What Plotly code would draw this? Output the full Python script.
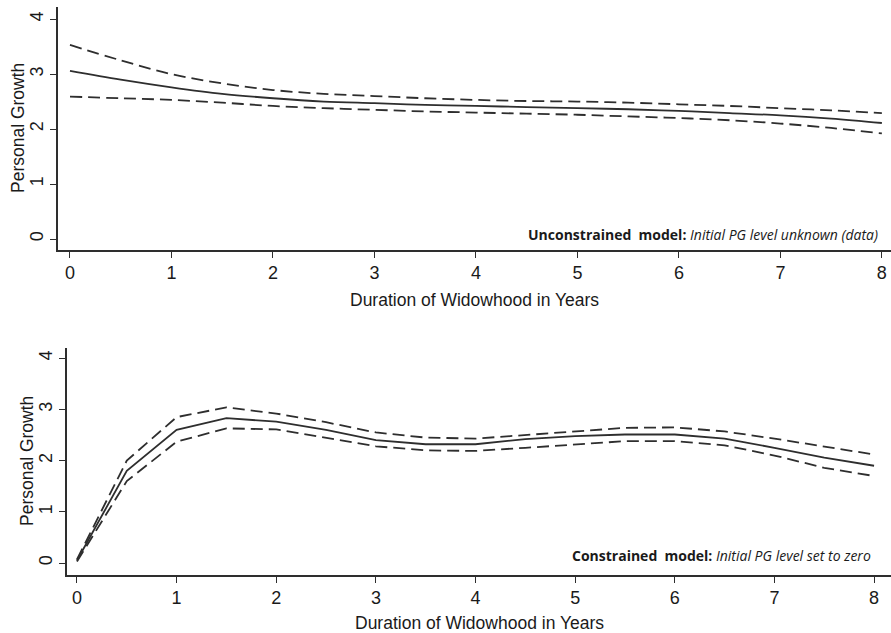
import plotly.graph_objects as go

years = [0, 0.5, 1, 1.5, 2, 2.5, 3, 3.5, 4, 4.5, 5, 5.5, 6, 6.5, 7, 7.5, 8]

# Unconstrained model (top panel)
unc_est = [3.06, 2.90, 2.76, 2.64, 2.56, 2.50, 2.47, 2.44, 2.42, 2.40, 2.38, 2.36, 2.33, 2.29, 2.25, 2.19, 2.11]
unc_upper = [3.53, 3.25, 3.00, 2.83, 2.71, 2.64, 2.60, 2.56, 2.53, 2.51, 2.50, 2.48, 2.45, 2.42, 2.38, 2.34, 2.29]
unc_lower = [2.59, 2.56, 2.53, 2.48, 2.42, 2.38, 2.35, 2.32, 2.30, 2.28, 2.26, 2.23, 2.20, 2.16, 2.10, 2.02, 1.92]

# Constrained model (bottom panel)
con_est = [0.05, 1.80, 2.60, 2.83, 2.76, 2.60, 2.40, 2.32, 2.32, 2.42, 2.48, 2.51, 2.51, 2.43, 2.25, 2.06, 1.90]
con_upper = [0.07, 2.00, 2.85, 3.04, 2.92, 2.75, 2.55, 2.45, 2.43, 2.50, 2.58, 2.64, 2.65, 2.57, 2.43, 2.27, 2.12]
con_lower = [0.03, 1.60, 2.37, 2.63, 2.61, 2.45, 2.28, 2.20, 2.19, 2.25, 2.32, 2.38, 2.38, 2.30, 2.10, 1.86, 1.70]

x_ticks = [0, 1, 2, 3, 4, 5, 6, 7, 8]
y_ticks = [0, 1, 2, 3, 4]
x_title = "Duration of Widowhood in Years"
y_title = "Personal Growth"
note_top = "<b>Unconstrained  model:</b> <i>Initial PG level unknown (data)</i>"
note_bot = "<b>Constrained  model:</b> <i>Initial PG level set to zero</i>"

W, H = 891, 633
LC = "#2e2e2e"
DASH = "12px,6px"

fig = go.Figure()

def add(y, xa, ya, dash, shape):
    fig.add_trace(go.Scatter(
        x=years, y=y, xaxis=xa, yaxis=ya, mode="lines",
        line=dict(color=LC, width=1.8, dash=dash, shape=shape),
        showlegend=False, hoverinfo="skip"))

add(unc_upper, "x", "y", DASH, "spline")
add(unc_lower, "x", "y", DASH, "spline")
add(unc_est, "x", "y", "solid", "spline")
add(con_upper, "x2", "y2", DASH, "linear")
add(con_lower, "x2", "y2", DASH, "linear")
add(con_est, "x2", "y2", "solid", "linear")

tickfont = dict(family="Liberation Sans, Arial, sans-serif", size=18, color="#1a1a1a")
axcommon = dict(showgrid=False, zeroline=False, showline=True, linecolor=LC, linewidth=1.6,
                ticks="outside", ticklen=6, tickwidth=1.4, tickcolor=LC, tickfont=tickfont)

fig.update_layout(
    width=W, height=H,
    margin=dict(l=0, r=0, t=0, b=0),
    paper_bgcolor="white", plot_bgcolor="white",
    xaxis=dict(domain=[58 / W, 1], range=[-0.118, 8.09], anchor="y",
               tickvals=x_ticks, **axcommon),
    yaxis=dict(domain=[1 - 250 / H, 1 - 7 / H], range=[-0.2, 4.22], anchor="x",
               tickvals=y_ticks, tickangle=-90, **axcommon),
    xaxis2=dict(domain=[67 / W, 1], range=[-0.1, 8.17], anchor="y2",
                tickvals=x_ticks, **axcommon),
    yaxis2=dict(domain=[1 - 575 / H, 1 - 348 / H], range=[-0.234, 4.2], anchor="x2",
                tickvals=y_ticks, tickangle=-90, **axcommon),
)

titlefont = dict(family="Liberation Sans, Arial, sans-serif", size=17.5, color="#1a1a1a")
notefont = dict(family="Open Sans, Lato, sans-serif", size=14, color="#1a1a1a")

ann = [
    dict(x=(58 + 891) / 2 / W, y=1 - 300 / H, text=x_title, font=titlefont),
    dict(x=(67 + 891) / 2 / W, y=1 - 623 / H, text=x_title, font=titlefont),
    dict(x=18 / W, y=1 - 128 / H, text=y_title, font=titlefont, textangle=-90),
    dict(x=27 / W, y=1 - 461 / H, text=y_title, font=titlefont, textangle=-90),
    dict(x=880 / W, y=1 - 234 / H, text=note_top, font=notefont, xanchor="right"),
    dict(x=873 / W, y=1 - 555 / H, text=note_bot, font=notefont, xanchor="right"),
]
for a in ann:
    a.setdefault("xanchor", "center")
    fig.add_annotation(xref="paper", yref="paper", showarrow=False, yanchor="middle", **a)

fig.write_html("out.html")
